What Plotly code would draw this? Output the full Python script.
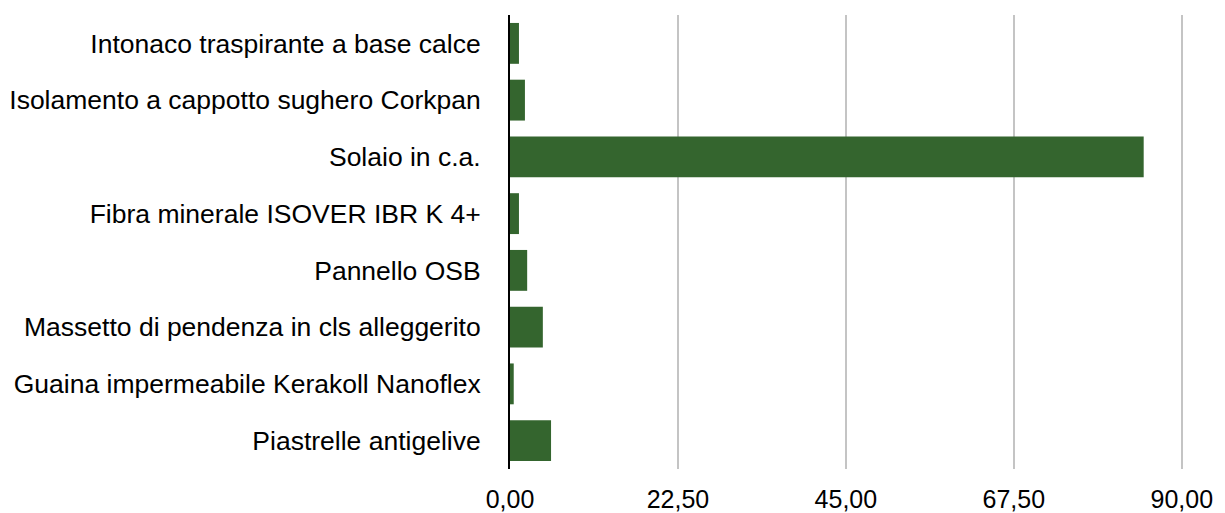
import plotly.graph_objects as go

categories = [
    "Intonaco traspirante a base calce",
    "Isolamento a cappotto sughero Corkpan",
    "Solaio in c.a.",
    "Fibra minerale ISOVER IBR K 4+",
    "Pannello OSB",
    "Massetto di pendenza in cls alleggerito",
    "Guaina impermeabile Kerakoll Nanoflex",
    "Piastrelle antigelive",
]
values = [1.2, 2.0, 84.9, 1.2, 2.3, 4.4, 0.5, 5.5]
tick_vals = [0, 22.5, 45, 67.5, 90]
tick_text = ["0,00", "22,50", "45,00", "67,50", "90,00"]

fig = go.Figure(
    go.Bar(
        y=categories,
        x=values,
        orientation="h",
        marker=dict(color="#34652e", line=dict(width=0)),
    )
)

fig.update_layout(
    width=1217,
    height=505,
    margin=dict(l=502, r=41, t=7, b=44),
    plot_bgcolor="white",
    paper_bgcolor="white",
    bargap=0.28,
    showlegend=False,
    font=dict(family="Liberation Sans, Arial, sans-serif", size=26, color="#000000"),
)
fig.update_xaxes(
    range=[0, 90.3],
    tickvals=tick_vals,
    ticktext=tick_text,
    showgrid=True,
    gridcolor="#c4c4c4",
    gridwidth=2,
    zeroline=False,
    showline=False,
    ticks="",
    ticklabelstandoff=13,
    tickfont=dict(size=25),
    automargin=False,
)
fig.update_yaxes(
    categoryorder="array",
    categoryarray=categories,
    autorange="reversed",
    showline=True,
    linecolor="#000000",
    linewidth=2,
    ticks="",
    ticklabelstandoff=22,
    tickfont=dict(size=26.5),
    automargin=False,
)

fig.write_html("out.html")
